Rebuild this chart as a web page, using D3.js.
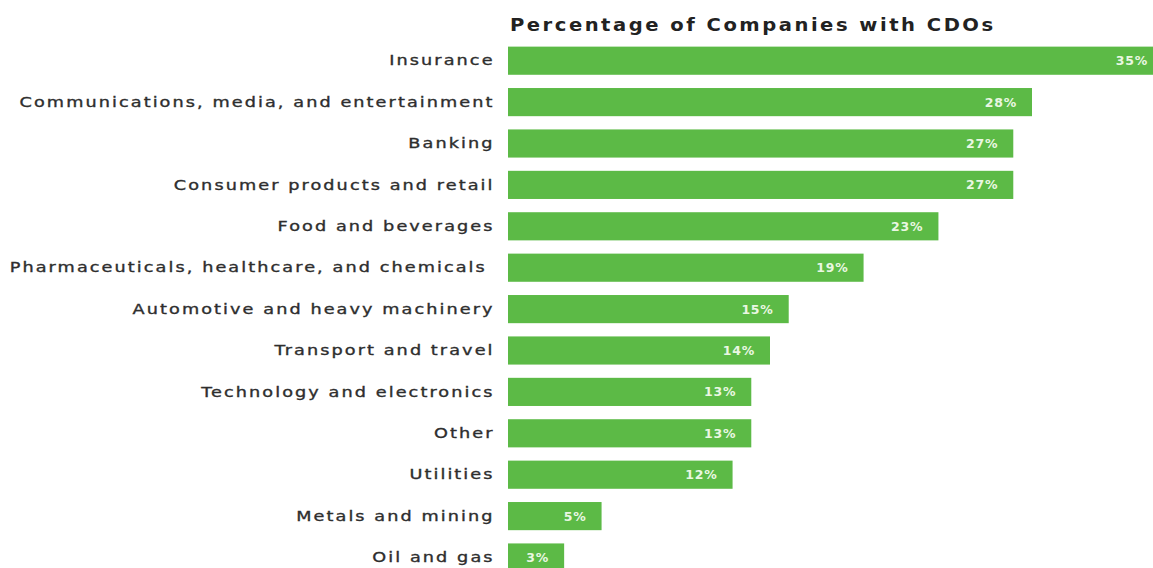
<!DOCTYPE html>
<html>
<head>
<meta charset="utf-8">
<script src="https://cdnjs.cloudflare.com/ajax/libs/d3/7.8.5/d3.min.js"></script>
<style>
  body { margin: 0; background: #fff; }
  svg { display: block; }
</style>
</head>
<body>
<div id="chart"></div>
<script>
// chart size
var svgWidth = 1153;
var svgHeight = 568;

// data
var industries = [
  "Insurance",
  "Communications, media, and entertainment",
  "Banking",
  "Consumer products and retail",
  "Food and beverages",
  "Pharmaceuticals, healthcare, and chemicals ",
  "Automotive and heavy machinery",
  "Transport and travel",
  "Technology and electronics",
  "Other",
  "Utilities",
  "Metals and mining",
  "Oil and gas"
];
var shares = [35, 28, 27, 27, 23, 19, 15, 14, 13, 13, 12, 5, 3];
var valueLabels = ["35%", "28%", "27%", "27%", "23%", "19%", "15%", "14%", "13%", "13%", "12%", "5%", "3%"];

var margin = { top: 47, left: 508 };
var font = "'DejaVu Sans', Verdana, sans-serif";
var stretch = 1.22; // the original face is wider than DejaVu

var svg = d3.select("#chart")
  .append("svg")
  .attr("width", svgWidth)
  .attr("height", svgHeight);

// x: percent -> pixels (35% runs just off the right edge)
var xScale = d3.scaleLinear()
  .domain([0, 35])
  .range([margin.left, margin.left + 655]);

// y: one band per industry
var yScale = d3.scaleBand()
  .domain(industries)
  .range([margin.top - 7, margin.top - 7 + 41.4 * 13])
  .paddingInner(0.32)
  .paddingOuter(0.16);

var rows = industries.map(function(name, i) {
  return { name: name, value: shares[i], label: valueLabels[i] };
});

// title
svg.append("text")
  .attr("transform", "translate(510, 31) scale(1.15, 1)")
  .attr("font-family", font)
  .attr("font-weight", 700)
  .attr("font-size", 17)
  .attr("letter-spacing", 2.2)
  .attr("fill", "#222")
  .text("Percentage of Companies with CDOs");

// bars
svg.selectAll("rect.bar")
  .data(rows)
  .enter()
  .append("rect")
  .attr("class", "bar")
  .attr("x", xScale(0))
  .attr("y", d => yScale(d.name))
  .attr("width", d => xScale(d.value) - xScale(0))
  .attr("height", yScale.bandwidth())
  .attr("fill", "#5cba46");

// value labels inside bars
svg.selectAll("text.value")
  .data(rows)
  .enter()
  .append("text")
  .attr("class", "value")
  .attr("x", d => xScale(d.value) - 15)
  .attr("y", d => yScale(d.name) + yScale.bandwidth() / 2)
  .attr("dy", "0.36em")
  .attr("text-anchor", "end")
  .attr("font-family", font)
  .attr("font-weight", 700)
  .attr("font-size", 12.5)
  .attr("letter-spacing", 0.8)
  .attr("fill", "#eaf7e2")
  .text(d => d.label);

// category labels
var leftAxis = d3.axisLeft(yScale).tickSize(0).tickPadding(11);
var axisG = svg.append("g")
  .attr("transform", `translate(${margin.left}, 0)`)
  .call(leftAxis);
axisG.select(".domain").remove();
axisG.selectAll("text")
  .attr("transform", `scale(${stretch}, 1)`)
  .attr("font-family", font)
  .attr("font-weight", 400)
  .attr("font-size", 14.5)
  .attr("letter-spacing", 1.7)
  .attr("fill", "#2e2e2e")
  .attr("stroke", "#2e2e2e")
  .attr("stroke-width", 0.35)
  .style("white-space", "pre");
</script>
</body>
</html>
